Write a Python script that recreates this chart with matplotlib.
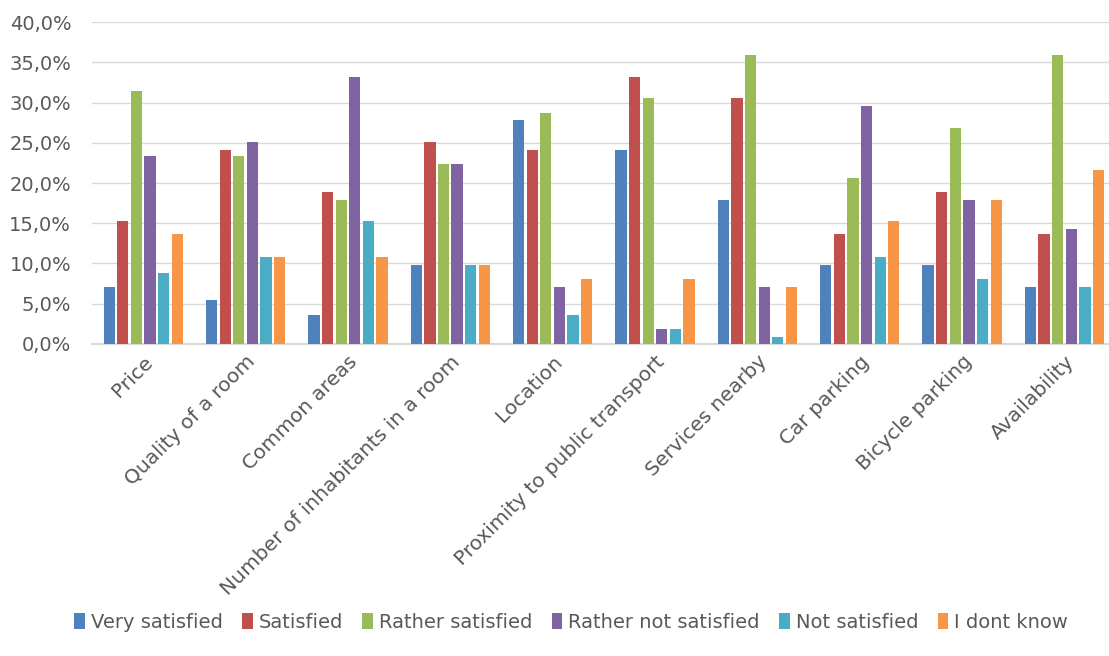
import matplotlib.pyplot as plt
import numpy as np
from matplotlib.ticker import FuncFormatter

categories = ["Price", "Quality of a room", "Common areas", "Number of inhabitants in a room",
              "Location", "Proximity to public transport", "Services nearby", "Car parking",
              "Bicycle parking", "Availability"]

series = ["Very satisfied", "Satisfied", "Rather satisfied", "Rather not satisfied",
          "Not satisfied", "I dont know"]

very_satisfied = [7.1, 5.4, 3.6, 9.8, 27.9, 24.1, 17.9, 9.8, 9.8, 7.1]
satisfied = [15.3, 24.1, 18.9, 25.1, 24.1, 33.2, 30.6, 13.6, 18.9, 13.6]
rather_satisfied = [31.5, 23.4, 17.9, 22.4, 28.7, 30.6, 35.9, 20.6, 26.9, 35.9]
rather_not_satisfied = [23.4, 25.1, 33.2, 22.4, 7.1, 1.8, 7.1, 29.6, 17.9, 14.3]
not_satisfied = [8.8, 10.8, 15.3, 9.8, 3.6, 1.8, 0.9, 10.8, 8.1, 7.1]
dont_know = [13.6, 10.8, 10.8, 9.8, 8.1, 8.1, 7.1, 15.3, 17.9, 21.6]

values = [very_satisfied, satisfied, rather_satisfied, rather_not_satisfied, not_satisfied, dont_know]
colors = ["#4F81BD", "#C0504D", "#9BBB59", "#8064A2", "#4BACC6", "#F79646"]

fig = plt.figure(figsize=(11.09, 6.56), dpi=100)
ax = fig.add_axes([0.083, 0.476, 0.923, 0.49])

x = np.arange(len(categories))
slot = 0.133
width = 0.11
for i, (name, vals, col) in enumerate(zip(series, values, colors)):
    ax.bar(x + (i - 2.5) * slot, vals, width, color=col, label=name, zorder=3)

ax.set_ylim(0, 40)
ax.set_xlim(-0.5, len(categories) - 0.5)
ax.set_yticks(np.arange(0, 41, 5))
ax.yaxis.set_major_formatter(FuncFormatter(lambda v, p: f"{v:.1f}%".replace(".", ",")))
ax.grid(axis="y", color="#D9D9D9", linewidth=1, zorder=0)
for s in ["top", "right", "left"]:
    ax.spines[s].set_visible(False)
ax.spines["bottom"].set_color("#D9D9D9")
ax.spines["bottom"].set_linewidth(1.5)
ax.tick_params(axis="both", length=0, labelsize=14, colors="#595959")
ax.tick_params(axis="y", pad=15)
ax.tick_params(axis="x", pad=6)
ax.set_xticks(x)
ax.set_xticklabels(categories, rotation=45, ha="right", rotation_mode="anchor",
                   fontsize=14.5, color="#595959")

fig.legend(loc="lower center", ncol=6, frameon=False, fontsize=14, handlelength=0.55,
           handleheight=0.9, handletextpad=0.3, columnspacing=1.0,
           bbox_to_anchor=(0.515, 0.01), labelcolor="#595959")

fig.savefig("out.png", dpi=100)
